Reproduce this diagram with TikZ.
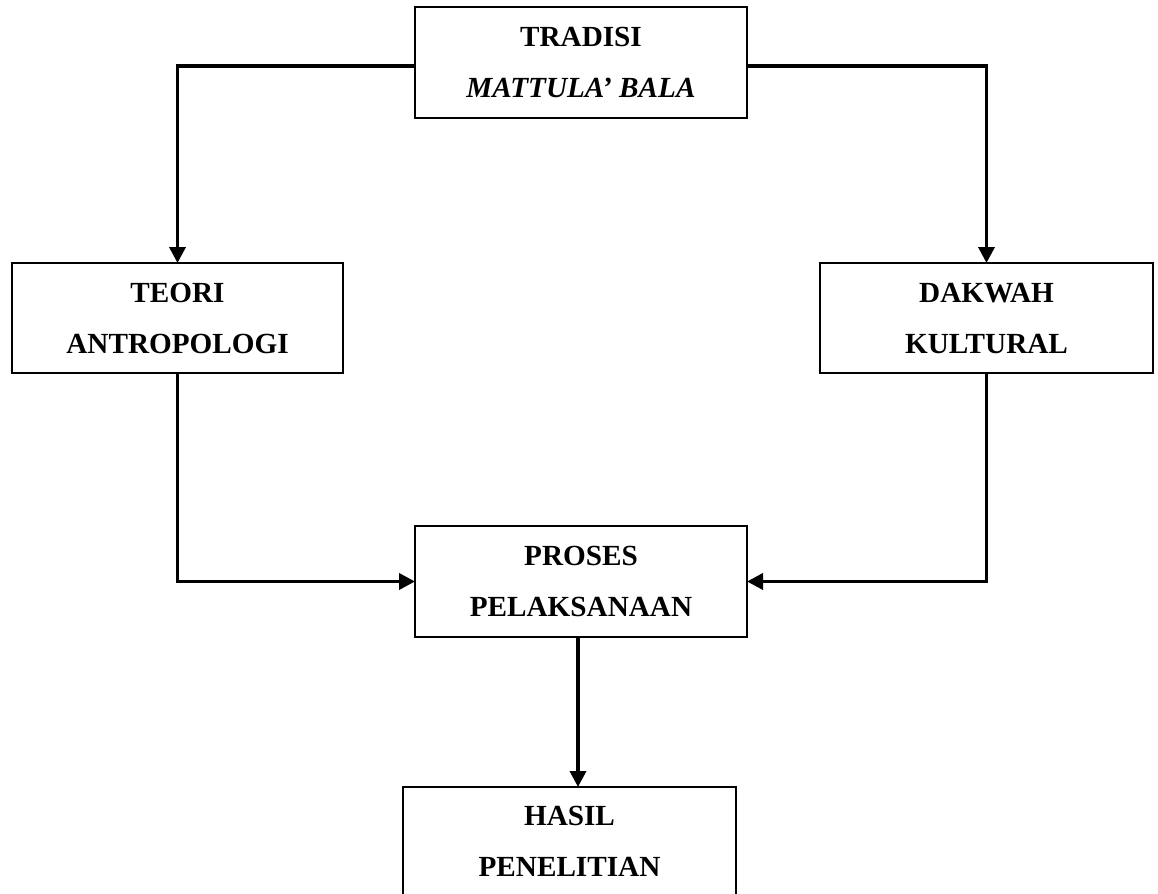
\documentclass[tikz,border=0pt]{standalone}
\usepackage{fontspec}
\setmainfont{Liberation Serif}
\usetikzlibrary{arrows.meta}
\begin{document}
\begin{tikzpicture}[x=0.5pt,y=-0.5pt,
  box/.style={draw, line width=1.4pt, inner sep=0pt, outer sep=0pt,
    align=center, font={\fontsize{14.6}{25.5}\selectfont\bfseries}},
  conn/.style={line width=1.8pt, -{Triangle[length=8pt,width=8pt]}}]
\path[use as bounding box, clip] (0,0) rectangle (1158,894);
\fill[white] (0,0) rectangle (1158,894);
\node[box, minimum width=166pt, minimum height=55.5pt] (top) at (581,62.5) {TRADISI\\\textit{MATTULA’ BALA}};
\node[box, minimum width=165.5pt, minimum height=55pt] (left) at (177.5,318) {TEORI\\ANTROPOLOGI};
\node[box, minimum width=166.5pt, minimum height=55pt] (right) at (986.5,318) {DAKWAH\\KULTURAL};
\node[box, minimum width=166pt, minimum height=55.5pt] (mid) at (581,581.5) {PROSES\\PELAKSANAAN};
\node[box, minimum width=166.5pt, minimum height=54.5pt] (bot) at (569.5,841.5) {HASIL\\PENELITIAN};
\draw[conn] ([yshift=-1.75pt]top.west) -| (left.north);
\draw[conn] ([yshift=-1.75pt]top.east) -| (right.north);
\draw[conn] (left.south) |- (mid.west);
\draw[conn] (right.south) |- (mid.east);
\draw[conn] ([xshift=-1.5pt]mid.south) -- ([xshift=-1.5pt]mid.south |- bot.north);
\end{tikzpicture}
\end{document}
